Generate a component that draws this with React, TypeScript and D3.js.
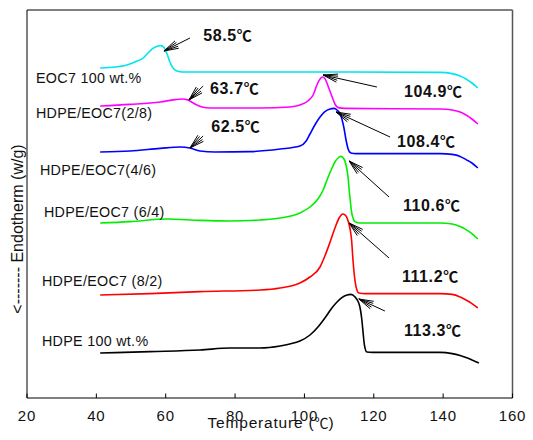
import React from "react";
import * as d3 from "d3";

type P = [number, number];

// Temperature (°C), endotherm signal (arbitrary offset units)
const EOC7_100: P[] = [
  [41.1, 82.5], [45.4, 82.75], [48.3, 83.1], [51.1, 84.0], [53.5, 85.0], [54.9, 86.25],
  [56.3, 87.4], [57.8, 88.0], [58.6, 88.1], [59.5, 87.6], [60.4, 86.0], [61.2, 84.0],
  [62.1, 82.5], [63.3, 81.75], [64.7, 81.5], [98.7, 81.5], [139.1, 81.4], [142.6, 81.1],
  [144.9, 80.5], [146.6, 79.75], [148.3, 78.75], [150.0, 77.5],
];
const HDPE_EOC7_28: P[] = [
  [41.1, 73.0], [49.7, 73.4], [58.4, 74.0], [62.7, 74.6], [64.7, 74.75], [66.4, 74.5],
  [68.4, 73.5], [70.5, 72.75], [72.8, 72.5], [87.2, 72.5], [95.8, 72.75], [98.7, 73.25],
  [101.0, 74.25], [102.5, 75.75], [103.6, 78.25], [104.5, 79.75], [105.2, 80.25],
  [105.9, 79.9], [106.8, 78.0], [108.0, 75.25], [108.8, 73.5], [109.7, 72.6], [111.7, 72.4],
  [139.1, 72.25], [142.6, 72.0], [144.9, 71.5], [146.6, 70.75], [148.3, 69.75], [150.0, 68.5],
];
const HDPE_EOC7_46: P[] = [
  [41.1, 61.5], [49.7, 61.75], [58.4, 62.4], [64.1, 62.75], [67.0, 62.5], [69.9, 61.75],
  [74.2, 61.5], [84.3, 61.6], [93.0, 62.25], [98.7, 63.0], [100.5, 64.25], [101.6, 66.0],
  [103.0, 68.25], [104.5, 70.25], [105.9, 71.6], [107.4, 72.25], [108.5, 72.4], [109.4, 72.0],
  [110.3, 71.0], [110.8, 69.75], [111.4, 67.5], [112.0, 64.5], [112.6, 62.25], [113.4, 61.25],
  [114.9, 61.1], [139.1, 61.1], [142.6, 60.9], [144.9, 60.4], [146.6, 59.6], [148.3, 58.75],
  [150.0, 57.5],
];
const HDPE_EOC7_64: P[] = [
  [41.1, 43.75], [49.7, 44.1], [60.4, 44.75], [69.9, 44.4], [78.5, 44.25], [87.2, 44.5],
  [93.0, 45.0], [98.7, 46.25], [101.6, 47.75], [103.9, 49.75], [105.4, 52.0], [106.5, 54.5],
  [107.7, 57.0], [108.8, 59.0], [109.7, 60.0], [110.5, 60.4], [111.4, 59.75], [112.0, 58.25],
  [112.6, 55.0], [112.9, 52.0], [113.2, 49.5], [113.7, 46.0], [114.6, 44.1], [116.0, 43.75],
  [139.1, 43.75], [142.6, 43.5], [144.9, 42.9], [146.6, 42.1], [148.3, 41.1], [150.0, 39.75],
];
const HDPE_EOC7_82: P[] = [
  [41.1, 25.75], [55.5, 26.1], [69.9, 26.6], [87.2, 27.0], [93.0, 27.5], [98.7, 28.75],
  [101.6, 30.25], [104.5, 32.75], [105.9, 35.5], [107.4, 39.0], [108.8, 42.5], [110.0, 45.0],
  [111.1, 46.0], [112.0, 45.5], [112.6, 44.25], [113.1, 42.5], [113.6, 39.5], [114.0, 34.5],
  [114.3, 31.5], [114.9, 27.75], [115.7, 26.25], [117.5, 26.1], [139.1, 26.1], [142.6, 25.9],
  [144.9, 25.25], [146.6, 24.5], [148.3, 23.6], [150.0, 22.5],
];
const HDPE_100: P[] = [
  [41.1, 11.25], [55.5, 11.6], [69.9, 12.0], [78.5, 12.5], [87.2, 12.5], [93.0, 13.0],
  [95.8, 13.5], [98.7, 14.25], [101.6, 15.75], [103.9, 17.75], [105.9, 20.0], [107.7, 22.25],
  [109.4, 24.0], [110.8, 25.1], [112.3, 25.75], [113.4, 25.9], [114.6, 25.25], [115.4, 24.25],
  [116.0, 22.75], [116.5, 20.0], [116.9, 16.5], [117.3, 13.25], [118.0, 11.5], [119.5, 11.4],
  [139.1, 11.4], [142.6, 11.1], [144.9, 10.6], [146.6, 10.1], [148.3, 9.5], [150.3, 8.75],
];

const SERIES = [EOC7_100, HDPE_EOC7_28, HDPE_EOC7_46, HDPE_EOC7_64, HDPE_EOC7_82, HDPE_100];
const SERIES_NAMES = [
  "EOC7 100 wt.%",
  "HDPE/EOC7(2/8)",
  "HDPE/EOC7(4/6)",
  "HDPE/EOC7 (6/4)",
  "HDPE/EOC7 (8/2)",
  "HDPE 100 wt.%",
];
const SERIES_COLORS = ["#00e5ee", "#ff00ff", "#0000ff", "#00ee00", "#ff0000", "#000000"];
// label anchor (px) for series names
const NAME_POS: P[] = [[36, 83], [36, 118], [40, 175], [44, 217], [42, 286], [42, 346]];

const PEAK_VALUES = ["58.5", "63.7", "62.5", "104.9", "108.4", "110.6", "111.2", "113.3"];
const UNIT = "℃";
// arrow tips / tails and text anchors in data units
const ARROW_TIP: P[] = [
  [59.5, 86.75], [66.7, 74.5], [67.0, 62.5], [105.4, 80.75],
  [109.1, 71.5], [112.9, 59.25], [112.9, 43.75], [115.7, 24.75],
];
const ARROW_TAIL: P[] = [
  [67.0, 90.0], [70.8, 78.0], [70.8, 65.5], [120.9, 77.75],
  [124.7, 65.25], [124.4, 50.25], [124.4, 35.0], [123.2, 21.75],
];
const TEXT_AT: P[] = [
  [70.8, 89.25], [72.8, 76.0], [73.1, 66.5], [128.7, 75.25],
  [126.7, 62.75], [128.4, 46.75], [128.1, 29.0], [128.7, 15.5],
];

const TEMP_TICKS = [20, 40, 60, 80, 100, 120, 140, 160];

const W = 533;
const H = 440;
const BOX = { left: 27, right: 512.5, top: 10, bottom: 398 };
const FONT = "Arial, 'Liberation Sans', 'DejaVu Sans', sans-serif";
const CJK = "'Noto Sans CJK SC', 'Noto Sans CJK JP', sans-serif";

export default function App() {
  const x = d3.scaleLinear().domain([20, 160]).range([BOX.left, BOX.right]);
  const y = d3.scaleLinear().domain([0, 97]).range([BOX.bottom, BOX.top]);
  const line = d3
    .line<P>()
    .x((d) => x(d[0]))
    .y((d) => y(d[1]))
    .curve(d3.curveMonotoneX);

  const arrows = ARROW_TIP.map((tip, i) => {
    const tx = x(tip[0]);
    const ty = y(tip[1]);
    const ex = x(ARROW_TAIL[i][0]);
    const ey = y(ARROW_TAIL[i][1]);
    const a = Math.atan2(ey - ty, ex - tx);
    const L = 15;
    const barbs = [-16, -8, 8, 16].map((deg) => {
      const b = a + (deg * Math.PI) / 180;
      return [tx + L * Math.cos(b), ty + L * Math.sin(b)];
    });
    return { tx, ty, ex, ey, barbs };
  });

  return (
    <svg
      width={W}
      height={H}
      style={{ position: "absolute", left: 0, top: 0, background: "#fff" }}
      fontFamily={FONT}
    >
      <rect x={0} y={0} width={W} height={H} fill="#fff" />
      {/* frame */}
      <line x1={BOX.left} y1={BOX.top} x2={BOX.right} y2={BOX.top} stroke="#000" strokeWidth={1} />
      <line x1={BOX.left} y1={BOX.top} x2={BOX.left} y2={BOX.bottom} stroke="#000" strokeWidth={1} />
      <line x1={BOX.right} y1={BOX.top} x2={BOX.right} y2={BOX.bottom} stroke="#555" strokeWidth={1.5} />
      <line x1={BOX.left} y1={BOX.bottom} x2={BOX.right} y2={BOX.bottom} stroke="#000" strokeWidth={1} />
      {TEMP_TICKS.map((t) => (
        <g key={t}>
          <line x1={x(t)} x2={x(t)} y1={BOX.bottom} y2={BOX.bottom - 4.5} stroke="#000" strokeWidth={1} />
          <text x={x(t)} y={421} textAnchor="middle" fontSize={15} letterSpacing={0.8} fill="#111">
            {t}
          </text>
        </g>
      ))}
      <text x={271} y={428} textAnchor="middle" fontSize={15.5} letterSpacing={0.8} fill="#111">
        Temperature (
        <tspan fontFamily={CJK} fontSize={14} letterSpacing={0}>
          {UNIT}
        </tspan>
        )
      </text>
      <text
        transform={`translate(23,${229}) rotate(-90)`}
        textAnchor="middle"
        fontSize={16}
        fill="#111"
      >
        {"<------- Endotherm (w/g)"}
      </text>

      {/* curves */}
      {SERIES.map((s, i) => (
        <path key={i} d={line(s) || ""} fill="none" stroke={SERIES_COLORS[i]} strokeWidth={1.6} />
      ))}

      {/* series names */}
      {SERIES_NAMES.map((n, i) => (
        <text key={n} x={NAME_POS[i][0]} y={NAME_POS[i][1]} fontSize={14.3} letterSpacing={0.3} fill="#111">
          {n}
        </text>
      ))}

      {/* arrows */}
      {arrows.map((a, i) => (
        <g key={i} stroke="#000" strokeWidth={1}>
          <line x1={a.tx} y1={a.ty} x2={a.ex} y2={a.ey} />
          {a.barbs.map((b, j) => (
            <line key={j} x1={a.tx} y1={a.ty} x2={b[0]} y2={b[1]} />
          ))}
        </g>
      ))}

      {/* peak labels */}
      {PEAK_VALUES.map((t, i) => (
        <text
          key={t}
          x={x(TEXT_AT[i][0])}
          y={y(TEXT_AT[i][1])}
          fontSize={16}
          fontWeight="bold"
          letterSpacing={0.6}
          fill="#111"
        >
          {t}
          <tspan fontFamily={CJK} fontSize={15} fontWeight="bold" letterSpacing={0}>
            {UNIT}
          </tspan>
        </text>
      ))}
    </svg>
  );
}
